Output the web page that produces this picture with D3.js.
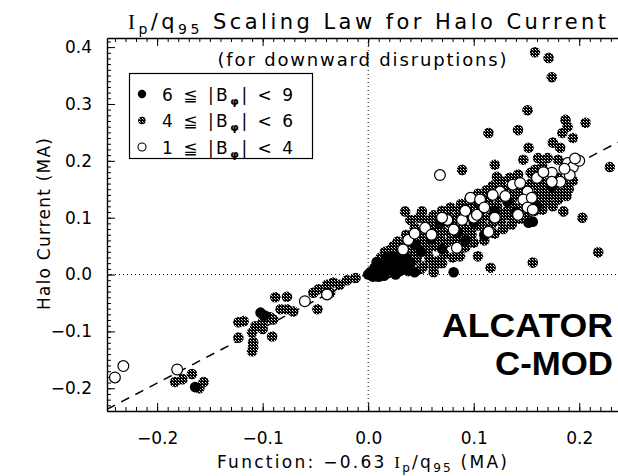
<!DOCTYPE html>
<html><head><meta charset="utf-8">
<script src="https://cdn.jsdelivr.net/npm/d3@7"></script>
<style>
html,body{margin:0;padding:0;background:#fff;}
svg{display:block;}
text{font-family:"DejaVu Sans",sans-serif;font-weight:400;fill:#000;}
</style></head><body>
<svg id="c" width="618" height="476"></svg>
<script>
// ---------- data ----------
const xDomain = [-0.2475, 0.25];
const yDomain = [-0.24, 0.416];
const xTicks = [-0.2, -0.1, 0.0, 0.1, 0.2];
const yTicks = [-0.2, -0.1, 0.0, 0.1, 0.2, 0.3, 0.4];
const legendLabels = [["6", "9"], ["4", "6"], ["1", "4"]];
const fitLine = [[-0.2475, -0.237], [0.25, 0.2455]];

// 6 <= |B_phi| < 9
const blackPts = [
  [0.002,0.004],[0.006,0.012],[0.010,0.003],[0.013,0.016],[0.017,0.008],[0.020,0.020],
  [0.024,0.010],[0.027,0.024],[0.030,0.006],[0.033,0.017],[0.008,0.022],[0.015,-0.002],
  [0.036,0.030],[0.022,0.032],[0.004,-0.003],[0.000,0.000],[0.010,-0.004],[0.026,0.000],
  [0.038,0.008],[0.040,0.020],[0.018,0.030],[0.012,0.008],[0.028,0.030],[0.044,0.004],
  [0.045,0.052],[0.060,0.062],[0.070,0.045],[0.081,0.004],[0.085,0.075],[0.100,0.092],
  [0.120,0.112],[0.132,0.128],[0.152,0.091],[0.156,0.093],[0.174,0.154],[0.110,0.070],
  [0.050,0.040],[0.092,0.060],[0.140,0.110],[0.160,0.120],[0.068,0.090],[0.105,0.125],
  [-0.102,-0.067],[-0.164,-0.198],[-0.098,-0.072]
];
// 4 <= |B_phi| < 6
const grayPts = [
  [-0.183,-0.189],[-0.176,-0.184],[-0.167,-0.175],[-0.156,-0.189],[-0.160,-0.200],
  [-0.123,-0.084],[-0.118,-0.082],[-0.093,-0.075],[-0.090,-0.079],[-0.107,-0.091],[-0.100,-0.096],
  [-0.110,-0.102],[-0.100,-0.084],[-0.123,-0.111],[-0.109,-0.119],[-0.109,-0.128],[-0.110,-0.135],
  [-0.091,-0.109],[-0.088,-0.040],[-0.077,-0.039],[-0.083,-0.061],[-0.077,-0.061],[-0.071,-0.065],
  [-0.048,-0.061],[-0.052,-0.032],[-0.047,-0.026],[-0.039,-0.018],[-0.033,-0.014],[-0.027,-0.018],
  [-0.036,-0.032],[-0.020,-0.010],[-0.012,-0.006],
  [0.005,-0.004],[0.018,0.002],[0.028,0.014],[0.038,0.006],[0.042,0.022],[0.050,0.010],[0.052,0.014],
  [0.062,0.004],[0.058,0.028],[0.066,0.024],[0.072,0.036],[0.080,0.030],[0.087,0.032],[0.104,0.032],
  [0.116,0.012],[0.156,0.021],[0.218,0.039],
  [0.012,0.030],[0.020,0.042],[0.028,0.058],[0.035,0.111],[0.051,0.111],[0.036,0.070],[0.044,0.082],
  [0.055,0.095],[0.062,0.104],[0.070,0.112],[0.078,0.118],[0.088,0.124],[0.096,0.132],[0.104,0.142],
  [0.112,0.148],[0.118,0.156],[0.126,0.164],[0.134,0.170],[0.142,0.176],[0.089,0.184],[0.120,0.193],
  [0.122,0.172],
  [0.032,0.040],[0.040,0.050],[0.048,0.062],[0.052,0.074],[0.058,0.048],[0.064,0.080],[0.068,0.064],
  [0.074,0.092],[0.078,0.072],[0.084,0.100],[0.090,0.084],[0.094,0.108],[0.098,0.070],[0.104,0.118],
  [0.108,0.098],[0.114,0.126],[0.118,0.090],[0.124,0.136],[0.128,0.108],[0.134,0.146],[0.138,0.118],
  [0.144,0.152],[0.148,0.130],[0.154,0.160],[0.160,0.140],[0.164,0.166],[0.168,0.150],[0.172,0.140],
  [0.178,0.158],[0.184,0.146],
  [0.092,0.048],[0.100,0.056],[0.110,0.060],[0.120,0.072],[0.128,0.080],[0.136,0.088],[0.144,0.098],
  [0.150,0.104],[0.158,0.112],[0.165,0.114],[0.175,0.120],[0.185,0.111],[0.203,0.100],[0.170,0.128],
  [0.180,0.132],[0.188,0.138],
  [0.008,0.010],[0.016,0.024],[0.024,0.036],[0.030,0.048],[0.038,0.030],[0.044,0.040],[0.050,0.054],
  [0.056,0.066],[0.060,0.086],[0.066,0.096],[0.070,0.076],[0.076,0.104],[0.080,0.086],[0.082,0.060],
  [0.086,0.112],[0.090,0.070],[0.096,0.120],[0.100,0.084],[0.106,0.110],[0.110,0.130],[0.112,0.082],
  [0.116,0.102],[0.120,0.140],[0.122,0.120],[0.126,0.094],[0.130,0.150],[0.132,0.112],[0.136,0.132],
  [0.140,0.100],[0.142,0.140],[0.146,0.120],[0.150,0.150],[0.152,0.138],[0.156,0.126],[0.160,0.156],
  [0.162,0.128],[0.166,0.142],[0.170,0.160],[0.176,0.146],[0.180,0.170],[0.186,0.158],[0.190,0.150],
  [0.194,0.165],[0.034,0.020],[0.046,0.028],[0.056,0.038],[0.064,0.050],[0.074,0.056],[0.086,0.066],
  [0.096,0.078],[0.106,0.086],[0.124,0.104],[0.134,0.104],[0.062,0.014],[0.070,0.020],[0.024,0.050],
  [0.016,0.040],[0.040,0.096],[0.048,0.100],
  [0.158,0.391],[0.171,0.381],[0.174,0.347],[0.151,0.289],[0.187,0.272],[0.206,0.267],[0.189,0.260],
  [0.114,0.249],[0.142,0.254],[0.184,0.249],[0.194,0.240],[0.175,0.232],[0.182,0.223],[0.152,0.223],
  [0.229,0.189],[0.147,0.202],[0.161,0.205],[0.170,0.205],[0.180,0.202],[0.154,0.179],[0.158,0.184],
  [0.165,0.190]
];
// 1 <= |B_phi| < 4
const openPts = [
  [-0.240,-0.181],[-0.232,-0.161],[-0.181,-0.167],[-0.060,-0.047],[-0.039,-0.035],
  [0.033,0.044],[0.038,0.061],[0.054,0.082],[0.075,0.096],[0.081,0.079],[0.084,0.047],[0.089,0.096],
  [0.100,0.100],[0.103,0.105],[0.097,0.135],[0.106,0.132],[0.114,0.075],[0.125,0.146],[0.137,0.158],
  [0.144,0.161],[0.151,0.146],[0.147,0.132],[0.155,0.135],[0.151,0.118],[0.156,0.114],[0.142,0.105],
  [0.174,0.179],[0.182,0.163],[0.174,0.163],[0.189,0.196],[0.194,0.189],[0.191,0.175],[0.200,0.200],
  [0.068,0.175],[0.060,0.070],[0.070,0.100],[0.092,0.112],[0.110,0.118],[0.118,0.140],[0.130,0.138],
  [0.160,0.170],[0.166,0.180],[0.196,0.204],[0.186,0.186],[0.044,0.072],[0.120,0.100]
];

// ---------- drawing ----------
const svg = d3.select("#c");
const x = d3.scaleLinear().domain(xDomain).range([107, 632]);
const y = d3.scaleLinear().domain(yDomain).range([411, 38]);

const defs = svg.append("defs");
const pat = defs.append("pattern").attr("id","ht").attr("width",3).attr("height",3)
  .attr("patternUnits","userSpaceOnUse");
pat.append("rect").attr("width",3).attr("height",3).attr("fill","#000");
pat.append("rect").attr("x",1).attr("y",1).attr("width",1).attr("height",1).attr("fill","#fff");
pat.append("rect").attr("x",2).attr("y",2).attr("width",1).attr("height",1).attr("fill","#999");

const fmt = d => (d < 0 ? "\u2212" : "") + Math.abs(d).toFixed(1);
const xMinor = d3.range(-24, 26).map(i => i / 100);
const yMinor = d3.range(-24, 42).map(i => i / 100);

function styleAxis(g, lw) {
  g.attr("font-family", null).attr("font-size", null);
  g.selectAll("line").attr("stroke", "#000").attr("stroke-width", 1);
  g.select(".domain").attr("stroke", "#000").attr("stroke-width", lw);
  g.selectAll("text").attr("font-size", 17).attr("fill", "#000");
}

// reference lines
svg.append("line").attr("x1", x(xDomain[0])).attr("x2", x(xDomain[1])).attr("y1", y(0)).attr("y2", y(0))
  .attr("stroke", "#000").attr("stroke-width", 1).attr("stroke-dasharray", "1,3");
svg.append("line").attr("x1", x(0)).attr("x2", x(0)).attr("y1", y(yDomain[0])).attr("y2", y(yDomain[1]))
  .attr("stroke", "#000").attr("stroke-width", 1).attr("stroke-dasharray", "1,3");

// axes: major
const gB = svg.append("g").attr("transform", `translate(0,${y(yDomain[0])})`)
  .call(d3.axisBottom(x).tickValues(xTicks).tickFormat(fmt).tickSize(-8).tickSizeOuter(0).tickPadding(21));
styleAxis(gB, 1.4);
const gT = svg.append("g").attr("transform", `translate(0,${y(yDomain[1])})`)
  .call(d3.axisTop(x).tickValues(xTicks).tickFormat("").tickSize(-8).tickSizeOuter(0));
styleAxis(gT, 1.4);
const gL = svg.append("g").attr("transform", `translate(${x(xDomain[0])},0)`)
  .call(d3.axisLeft(y).tickValues(yTicks).tickFormat(fmt).tickSize(-8).tickSizeOuter(0).tickPadding(15));
styleAxis(gL, 1.4);
// minor ticks
[[d3.axisBottom(x).tickValues(xMinor), `translate(0,${y(yDomain[0])})`],
 [d3.axisTop(x).tickValues(xMinor), `translate(0,${y(yDomain[1])})`],
 [d3.axisLeft(y).tickValues(yMinor), `translate(${x(xDomain[0])},0)`]].forEach(([ax, tr]) => {
  const g = svg.append("g").attr("transform", tr).call(ax.tickSize(-4).tickSizeOuter(0).tickFormat(""));
  g.select(".domain").remove();
  g.selectAll("line").attr("stroke", "#000").attr("stroke-width", 1);
});

// fit line
svg.append("path").datum(fitLine)
  .attr("d", d3.line().x(d => x(d[0])).y(d => y(d[1])))
  .attr("fill", "none").attr("stroke", "#000").attr("stroke-width", 1.5).attr("stroke-dasharray", "9,7");

// points
const pts = svg.append("g");
pts.selectAll(".g").data(grayPts).join("circle").attr("class","g")
  .attr("cx", d => x(d[0])).attr("cy", d => y(d[1])).attr("r", 5.3).attr("fill", "url(#ht)");
pts.selectAll(".b").data(blackPts).join("circle").attr("class","b")
  .attr("cx", d => x(d[0])).attr("cy", d => y(d[1])).attr("r", 5.3).attr("fill", "#000");
pts.selectAll(".o").data(openPts).join("circle").attr("class","o")
  .attr("cx", d => x(d[0])).attr("cy", d => y(d[1])).attr("r", 5.4).attr("fill", "#fff")
  .attr("stroke", "#000").attr("stroke-width", 1.2);

// legend
const lg = svg.append("g");
lg.append("rect").attr("x", 129.5).attr("y", 73.5).attr("width", 183).attr("height", 85)
  .attr("fill", "#fff").attr("stroke", "#000").attr("stroke-width", 1.2);
const rowsY = [94, 120.5, 147];
const mk = [
  s => s.attr("r", 4.2).attr("fill", "#000"),
  s => s.attr("r", 3.8).attr("fill", "url(#ht)"),
  s => s.attr("r", 4).attr("fill", "#fff").attr("stroke", "#000").attr("stroke-width", 1.1)
];
legendLabels.forEach((lab, i) => {
  mk[i](lg.append("circle").attr("cx", 142).attr("cy", rowsY[i]));
  const t = lg.append("text").attr("x", 162).attr("y", rowsY[i] + 6.5).attr("font-size", 17)
    .attr("textLength", 131).attr("lengthAdjust", "spacing");
  t.append("tspan").text(lab[0] + " \u2266 |B");
  t.append("tspan").attr("font-size", 11).attr("dy", 4).attr("font-weight", 700).text("\u03c6");
  t.append("tspan").attr("dy", -4).text("| < " + lab[1]);
});

// title
const tt = svg.append("text").attr("x", 128).attr("y", 29).attr("font-size", 21)
  .attr("textLength", 478).attr("lengthAdjust", "spacing");
tt.append("tspan").attr("font-family", "Liberation Serif").text("I");
tt.append("tspan").attr("font-size", 14).attr("dy", 5).text("p");
tt.append("tspan").attr("dy", -5).text("/q");
tt.append("tspan").attr("font-size", 14).attr("dy", 5).text("95");
tt.append("tspan").attr("dy", -5).text(" Scaling Law for Halo Current");

// subtitle
svg.append("text").attr("x", 362).attr("y", 66).attr("font-size", 18).attr("text-anchor", "middle")
  .attr("textLength", 289).attr("lengthAdjust", "spacing").text("(for downward disruptions)");

// x title
const xt = svg.append("text").attr("x", 362).attr("y", 468).attr("font-size", 17).attr("text-anchor", "middle")
  .attr("textLength", 290).attr("lengthAdjust", "spacing");
xt.append("tspan").text("Function: \u22120.63 ");
xt.append("tspan").attr("font-family", "Liberation Serif").text("I");
xt.append("tspan").attr("font-size", 12).attr("dy", 4).text("p");
xt.append("tspan").attr("dy", -4).text("/q");
xt.append("tspan").attr("font-size", 12).attr("dy", 4).text("95");
xt.append("tspan").attr("dy", -4).text(" (MA)");

// y title
svg.append("text").attr("transform", "translate(44,224) rotate(-90)").attr("font-size", 17)
  .attr("text-anchor", "middle").attr("dy", "0.35em")
  .attr("textLength", 172).attr("lengthAdjust", "spacing").text("Halo Current (MA)");

// ALCATOR C-MOD label
[["ALCATOR", 337, 171], ["C-MOD", 375, 118]].forEach(([s, yy, len]) => {
  svg.append("text").attr("x", 613).attr("y", yy).attr("text-anchor", "end")
    .style("font-family", "'Liberation Sans', Arial, sans-serif").style("font-weight", "700")
    .attr("font-size", 33).attr("textLength", len).attr("lengthAdjust", "spacingAndGlyphs").text(s);
});
</script>
</body></html>
